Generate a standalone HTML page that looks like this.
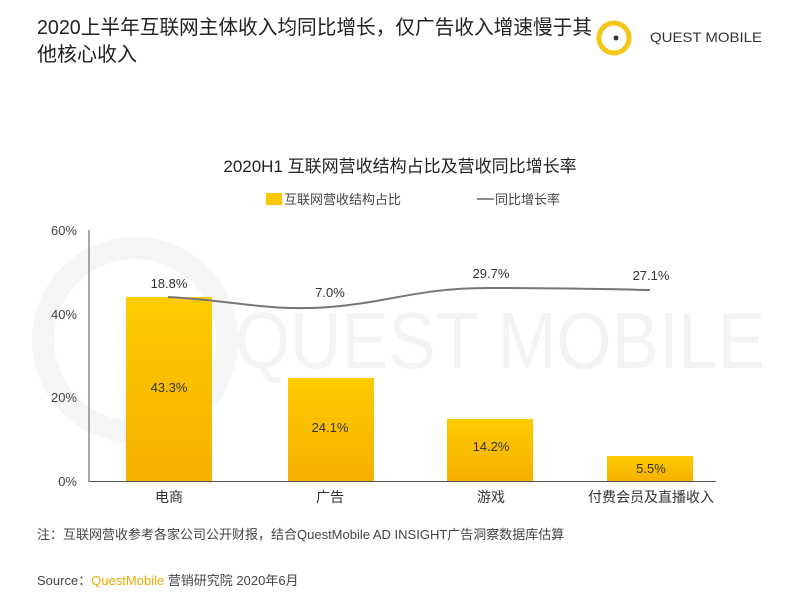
<!DOCTYPE html>
<html><head><meta charset="utf-8"><style>
body{margin:0;width:800px;height:600px;background:#fff;overflow:hidden;font-family:"Liberation Sans","Noto Sans CJK SC",sans-serif;}
</style></head><body>
<svg width="800" height="600" xmlns="http://www.w3.org/2000/svg" font-family="Liberation Sans, Noto Sans CJK SC, sans-serif">
<defs><linearGradient id="g" x1="0" y1="0" x2="0" y2="1"><stop offset="0" stop-color="#ffcc00"/><stop offset="1" stop-color="#f5b000"/></linearGradient></defs>
<circle cx="135" cy="340" r="92" fill="none" stroke="#f5f5f5" stroke-width="22"/>
<text x="235" y="368" font-size="80" fill="#f3f3f3" textLength="530" lengthAdjust="spacingAndGlyphs">QUEST MOBILE</text>
<text x="37" y="34" font-size="20" fill="#222" textLength="555" lengthAdjust="spacingAndGlyphs">2020上半年互联网主体收入均同比增长，仅广告收入增速慢于其</text>
<text x="37" y="61" font-size="20" fill="#222">他核心收入</text>
<circle cx="614" cy="38" r="15" fill="none" stroke="#f5c518" stroke-width="5"/>
<circle cx="616" cy="38" r="2.5" fill="#333"/>
<text x="650" y="42" font-size="14" fill="#333" textLength="112" lengthAdjust="spacingAndGlyphs">QUEST MOBILE</text>
<text x="400" y="172" font-size="17" fill="#222" text-anchor="middle">2020H1 互联网营收结构占比及营收同比增长率</text>
<rect x="266" y="193" width="16" height="12" fill="#ffc400"/>
<text x="284" y="204" font-size="13" fill="#444">互联网营收结构占比</text>
<line x1="477" y1="199" x2="494" y2="199" stroke="#666" stroke-width="1.5"/>
<text x="495" y="204" font-size="13" fill="#444">同比增长率</text>
<g font-size="13" fill="#444" text-anchor="end">
<text x="77" y="235">60%</text><text x="77" y="319">40%</text><text x="77" y="402">20%</text><text x="77" y="486">0%</text></g>
<line x1="89" y1="230" x2="89" y2="482" stroke="#555"/>
<line x1="89" y1="481.5" x2="716" y2="481.5" stroke="#555"/>
<rect x="126" y="297" width="86" height="184" fill="url(#g)"/>
<rect x="288" y="378" width="86" height="103" fill="url(#g)"/>
<rect x="447" y="419" width="86" height="62" fill="url(#g)"/>
<rect x="607" y="456" width="86" height="25" fill="url(#g)"/>
<path d="M168,297 C230,300 270,312 330,307 C390,302 420,288 487,288 C560,288 600,289 650,290" fill="none" stroke="#777" stroke-width="2"/>
<g font-size="13" fill="#333" text-anchor="middle">
<text x="169" y="288">18.8%</text><text x="330" y="297">7.0%</text><text x="491" y="278">29.7%</text><text x="651" y="280">27.1%</text>
<text x="169" y="392">43.3%</text><text x="330" y="432">24.1%</text><text x="491" y="451">14.2%</text><text x="651" y="473">5.5%</text>
<text x="169" y="502" font-size="14">电商</text><text x="330" y="502" font-size="14">广告</text><text x="491" y="502" font-size="14">游戏</text><text x="651" y="502" font-size="14">付费会员及直播收入</text></g>
<text x="37" y="539" font-size="13" fill="#444">注：互联网营收参考各家公司公开财报，结合QuestMobile AD INSIGHT广告洞察数据库估算</text>
<text x="37" y="585" font-size="13" fill="#444">Source：<tspan fill="#f0a800">QuestMobile</tspan> 营销研究院 2020年6月</text>
</svg>
</body></html>
